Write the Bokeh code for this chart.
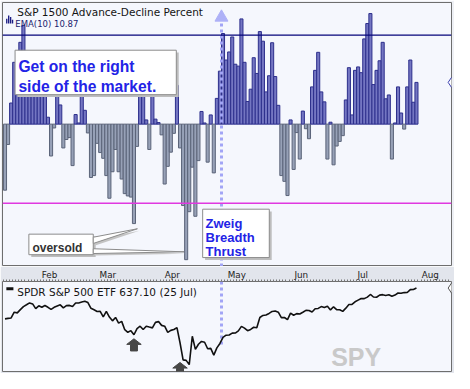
from bokeh.plotting import figure
from bokeh.models import Range1d, Span, Label, ColumnDataSource, FixedTicker
from bokeh.layouts import column
from bokeh.embed import file_html
from bokeh.resources import INLINE

# ---------------- data ----------------
# S&P 1500 Advance-Decline Percent, EMA(10), one value per trading day (10 Jan .. 25 Jul)
ad_ema = [
    -17.2, -5.3, 5.5, 16.1, 18.5, 21.3, 25.7, 18.0, 17.0, 15.0,
    13.0, 12.0, 10.0, 7.2, 1.8, -8.3, -1.0, 7.2, 5.0, -6.2,
    -4.0, -3.5, -10.8, 2.5, 0.3, 7.2, 3.6, -2.3, -13.9, -13.4,
    -5.0, -7.4, -8.9, -13.4, -19.3, -12.4, -6.6, -12.4, -14.3, -18.1,
    -18.7, -19.0, -25.9, -5.8, 7.6, 7.6, 1.1, -6.6, 7.7, 1.3,
    0.4, -2.8, -15.6, -11.0, -7.3, -2.4, 10.1, -6.2, -21.2, -35.3,
    -22.8, -11.2, -24.0, -9.5, 3.3, 0.3, -9.9, 2.4, -12.7, 6.7,
    13.8, 23.6, 16.7, 18.8, 22.7, 15.6, 15.1, 27.4, 16.1, 5.9,
    9.1, 17.3, 13.2, 24.1, 21.6, 8.4, 12.6, 21.2, 12.4, 4.9,
    -13.4, -14.9, -18.6, 1.1, -11.8, -2.2, -9.1, 3.4, -1.2, -3.8,
    9.7, 14.0, 18.7, 8.4, 5.8, -9.1, 0.5, -10.6, -5.7, -4.5,
    -3.0, 6.3, 14.7, 2.4, 14.0, 14.9, 13.4, 22.2, 26.2, 28.8,
    10.3, 14.0, 16.5, 21.3, 6.6, 7.6, -9.1, 0.3, 9.7, 2.9,
    -1.3, 9.7, 16.7, 5.7, 10.87,
]

# SPDR S&P 500 ETF close, same trading days
spy_close = [
    580.5, 581.4, 582.2, 592.8, 591.6, 597.6, 603.1, 606.4, 609.8, 608.0,
    599.4, 604.5, 601.8, 605.0, 601.8,
    597.8, 601.8, 604.2, 606.3, 600.8, 604.9, 605.3, 603.4, 609.7, 609.7,
    611.5, 612.9, 610.4, 600.0, 597.2, 594.2, 594.5, 584.3, 594.2,
    583.8, 576.9, 583.1, 572.7, 575.9, 560.6, 555.9, 558.9, 551.4, 562.8,
    567.1, 561.0, 567.1, 565.5, 564.0, 574.1, 575.5, 568.6, 567.1, 555.7, 559.4,
    561.0, 564.5, 536.7, 505.3, 504.4, 496.5, 548.6, 524.6, 533.9, 539.1,
    537.6, 525.7, 526.4, 513.9, 527.3, 535.4, 546.7, 550.6, 550.9, 554.3, 554.5,
    558.5, 566.8, 563.5, 558.8, 561.2, 565.1, 564.3, 583.0, 586.8, 587.6,
    590.5, 594.2, 594.9, 592.9, 582.9, 583.1, 579.1, 591.2, 587.2, 590.2, 589.4,
    592.7, 596.1, 596.0, 593.1, 599.1, 599.7, 603.1, 601.4, 603.8, 597.0,
    602.7, 597.5, 597.4, 594.3, 600.2, 606.8, 607.1, 611.9, 614.9, 617.9,
    617.7, 620.5, 625.3, 620.7, 620.3, 624.1, 625.0, 623.6, 624.8, 622.1,
    624.2, 628.0, 627.6, 628.8, 628.9, 634.2, 634.4, 637.1,
]

month_names = ["Feb", "Mar", "Apr", "May", "Jun", "Jul", "Aug"]
month_start_idx = [15, 34, 55, 76, 97, 117, 139]   # first trading day of each month
upper_level = 23.2      # thrust level (navy line)
lower_level = -20.6     # oversold level (magenta line)
zbt_idx = 71            # Zweig Breadth Thrust day
signal_idx = [42, 57]          # arrows under SPY
signal_price = [544.0, 500.5]  # arrow tip prices
last_date = "25 Jul"

# ---------------- geometry helpers: reference-pixel -> data ----------------
BAR_PX = 3.18
def tx(px):
    return (px - 3.0) / BAR_PX - 0.5
def ty(py):
    return (128.7 - py) / 4.0
def by(py):
    return 637.1 - (py - 298.0) / 0.581
def bpy(price):
    return 298.0 + (637.1 - price) * 0.581
def bpx(x):
    return 3.0 + (x + 0.5) * BAR_PX

PANEL_BG = "#f5f7fd"
FRAME = "#6e6e6e"

# ---------------- top panel ----------------
top = figure(width=454, height=266,
             x_range=Range1d(tx(2), tx(467)), y_range=Range1d(ty(277), ty(2)),
             x_axis_location=None, y_axis_location=None,
             toolbar_location=None, output_backend="svg",
             min_border_left=2, min_border_right=3, min_border_top=2, min_border_bottom=0,
             background_fill_color=PANEL_BG, border_fill_color="#eef0f5",
             outline_line_color=FRAME, outline_line_width=1)
top.grid.grid_line_color = None

idx = list(range(len(ad_ema)))
src = ColumnDataSource(dict(
    x=idx, top=ad_ema,
    fill=["#7476c2" if v >= 0 else "#97a1b7" for v in ad_ema],
    line=["#2d2f8c" if v >= 0 else "#5b6479" for v in ad_ema],
))
top.vbar(x="x", top="top", bottom=0, width=1.0, fill_color="fill",
         line_color="line", line_width=1, source=src)

top.add_layout(Span(location=upper_level, dimension="width", line_color="#05057a", line_width=1.3))
top.add_layout(Span(location=lower_level, dimension="width", line_color="#e038e0", line_width=1.3))

# thrust marker line with arrow head
top.segment(x0=[zbt_idx - 0.5], y0=[ty(277)], x1=[zbt_idx - 0.5], y1=[ty(22)],
            line_color="#a2a5f6", line_width=3, line_dash="3 3")
top.scatter(x=[zbt_idx - 0.5], y=[ty(17.5)], marker="triangle", size=13,
            fill_color="#aeb1f7", line_color="#aeb1f7")

# last value marker on right edge
top.scatter(x=[tx(467)], y=[ad_ema[-1]], marker="diamond", size=10,
            fill_color="white", line_color="#3b3fb0", line_width=1)

# EMA legend icon
icon_l = [5.7, 7.7, 9.7, 11.7]
icon_t = [19.0, 15.5, 17.0, 20.0]
top.quad(left=[tx(v) for v in icon_l], right=[tx(v + 1.4) for v in icon_l],
         top=[ty(v) for v in icon_t], bottom=[ty(24.0)] * 4,
         fill_color="#1c1c84", line_color=None)

# callout boxes (shadows first)
boxes = [(15, 182, 51.7, 98), (29.3, 96, 243.3, 264.7), (209.3, 278.3, 217.3, 267.7)]
sh = 2.5
top.quad(left=[tx(b[0] + sh) for b in boxes], right=[tx(b[1] + sh) for b in boxes],
         top=[ty(b[2] + sh) for b in boxes], bottom=[ty(b[3] + sh) for b in boxes],
         fill_color="#bdbdbd", line_color=None)
wedges = [[(96, 246.5), (141.7, 237.7), (96, 253.0)],
          [(96, 258.5), (190.0, 261.7), (96, 263.5)]]
top.patches(xs=[[tx(p[0] + 2) for p in w] for w in wedges],
            ys=[[ty(p[1] + 2) for p in w] for w in wedges],
            fill_color="#c4c4c4", line_color=None)
top.quad(left=[tx(b[0]) for b in boxes], right=[tx(b[1]) for b in boxes],
         top=[ty(b[2]) for b in boxes], bottom=[ty(b[3]) for b in boxes],
         fill_color="white", line_color="#8c8c8c", line_width=1)
top.patches(xs=[[tx(p[0]) for p in w] for w in wedges],
            ys=[[ty(p[1]) for p in w] for w in wedges],
            fill_color="white", line_color="#8c8c8c", line_width=1)

def lab(fig, x, y, text, size, color, font="DejaVu Sans", bold=False, align="left"):
    fig.add_layout(Label(x=x, y=y, text=text, text_font=font, text_font_size=size,
                         text_color=color, text_font_style="bold" if bold else "normal",
                         text_align=align, text_baseline="alphabetic"))

lab(top, tx(17.3), ty(12.3), "S&P 1500 Advance-Decline Percent", "10.5px", "#141414")
lab(top, tx(15.3), ty(24.3), f"EMA(10) {ad_ema[-1]:.2f}", "8.5px", "#1c1c6e")
lab(top, tx(18.5), ty(69.0), "Get on the right", "15.6px", "#2323e6", "Liberation Sans", True)
lab(top, tx(18.5), ty(89.3), "side of the market.", "15.6px", "#2323e6", "Liberation Sans", True)
lab(top, tx(33.0), ty(257.7), "oversold", "12px", "#333333", "Liberation Sans", True)
for k, word in enumerate(["Zweig", "Breadth", "Thrust"]):
    lab(top, tx(212.3), ty(231.7 + 15 * k), word, "13px", "#2323e6", "Liberation Sans", True)

# ---------------- bottom panel ----------------
bot = figure(width=454, height=107,
             x_range=top.x_range, y_range=Range1d(by(387), by(291)),
             x_axis_location="above", y_axis_location=None,
             toolbar_location=None, output_backend="svg",
             min_border_left=2, min_border_right=3, min_border_top=13, min_border_bottom=2,
             background_fill_color=PANEL_BG, border_fill_color="#e2e5ec",
             outline_line_color=FRAME, outline_line_width=1)
bot.grid.grid_line_color = None
ax = bot.xaxis[0]
ax.ticker = FixedTicker(ticks=[m - 0.5 for m in month_start_idx],
                        minor_ticks=[i - 0.5 for i in range(-1, 147)])
ax.major_label_overrides = {m - 0.5: n for m, n in zip(month_start_idx, month_names)}
ax.major_label_standoff = 0
ax.major_tick_out = 2
ax.major_tick_in = 0
ax.minor_tick_out = 2
ax.minor_tick_in = 0
ax.major_tick_line_color = "#555555"
ax.minor_tick_line_color = "#777777"
ax.axis_line_color = None
ax.major_label_text_font = "DejaVu Sans"
ax.major_label_text_font_size = "8.8px"
ax.major_label_text_color = "#222222"

lab(bot, tx(368.3), by(371), "SPY", "25px", "#c9c9c9", "Liberation Sans", True, "center")

bot.segment(x0=[zbt_idx - 0.5], y0=[by(291)], x1=[zbt_idx - 0.5], y1=[spy_close[zbt_idx] - 16],
            line_color="#a2a5f6", line_width=3, line_dash="3 3")
bot.line(x=idx, y=spy_close, line_color="#111111", line_width=1.6)

# signal arrows (tip at signal price)
arrow_xs, arrow_ys = [], []
for xi, pr in zip(signal_idx, signal_price):
    cx, tip = bpx(xi), bpy(pr)
    pts = [(cx, tip), (cx + 7.5, tip + 6), (cx + 3.6, tip + 6), (cx + 3.6, tip + 13),
           (cx - 3.6, tip + 13), (cx - 3.6, tip + 6), (cx - 7.5, tip + 6)]
    arrow_xs.append([tx(p[0]) for p in pts])
    arrow_ys.append([by(p[1]) for p in pts])
bot.patches(xs=arrow_xs, ys=arrow_ys, fill_color="#474747", line_color="#474747")

bot.scatter(x=[tx(467)], y=[spy_close[-1]], marker="diamond", size=10,
            fill_color="white", line_color="#555555", line_width=1)

bot.segment(x0=[tx(6)], y0=[by(298.7)], x1=[tx(13.3)], y1=[by(298.7)],
            line_color="#111111", line_width=3)
lab(bot, tx(17.3), by(301.7), f"SPDR S&P 500 ETF {spy_close[-1]:.2f} ({last_date})", "10.5px", "#141414")

page = column(top, bot)
open("out.html", "w").write(file_html(page, INLINE))
